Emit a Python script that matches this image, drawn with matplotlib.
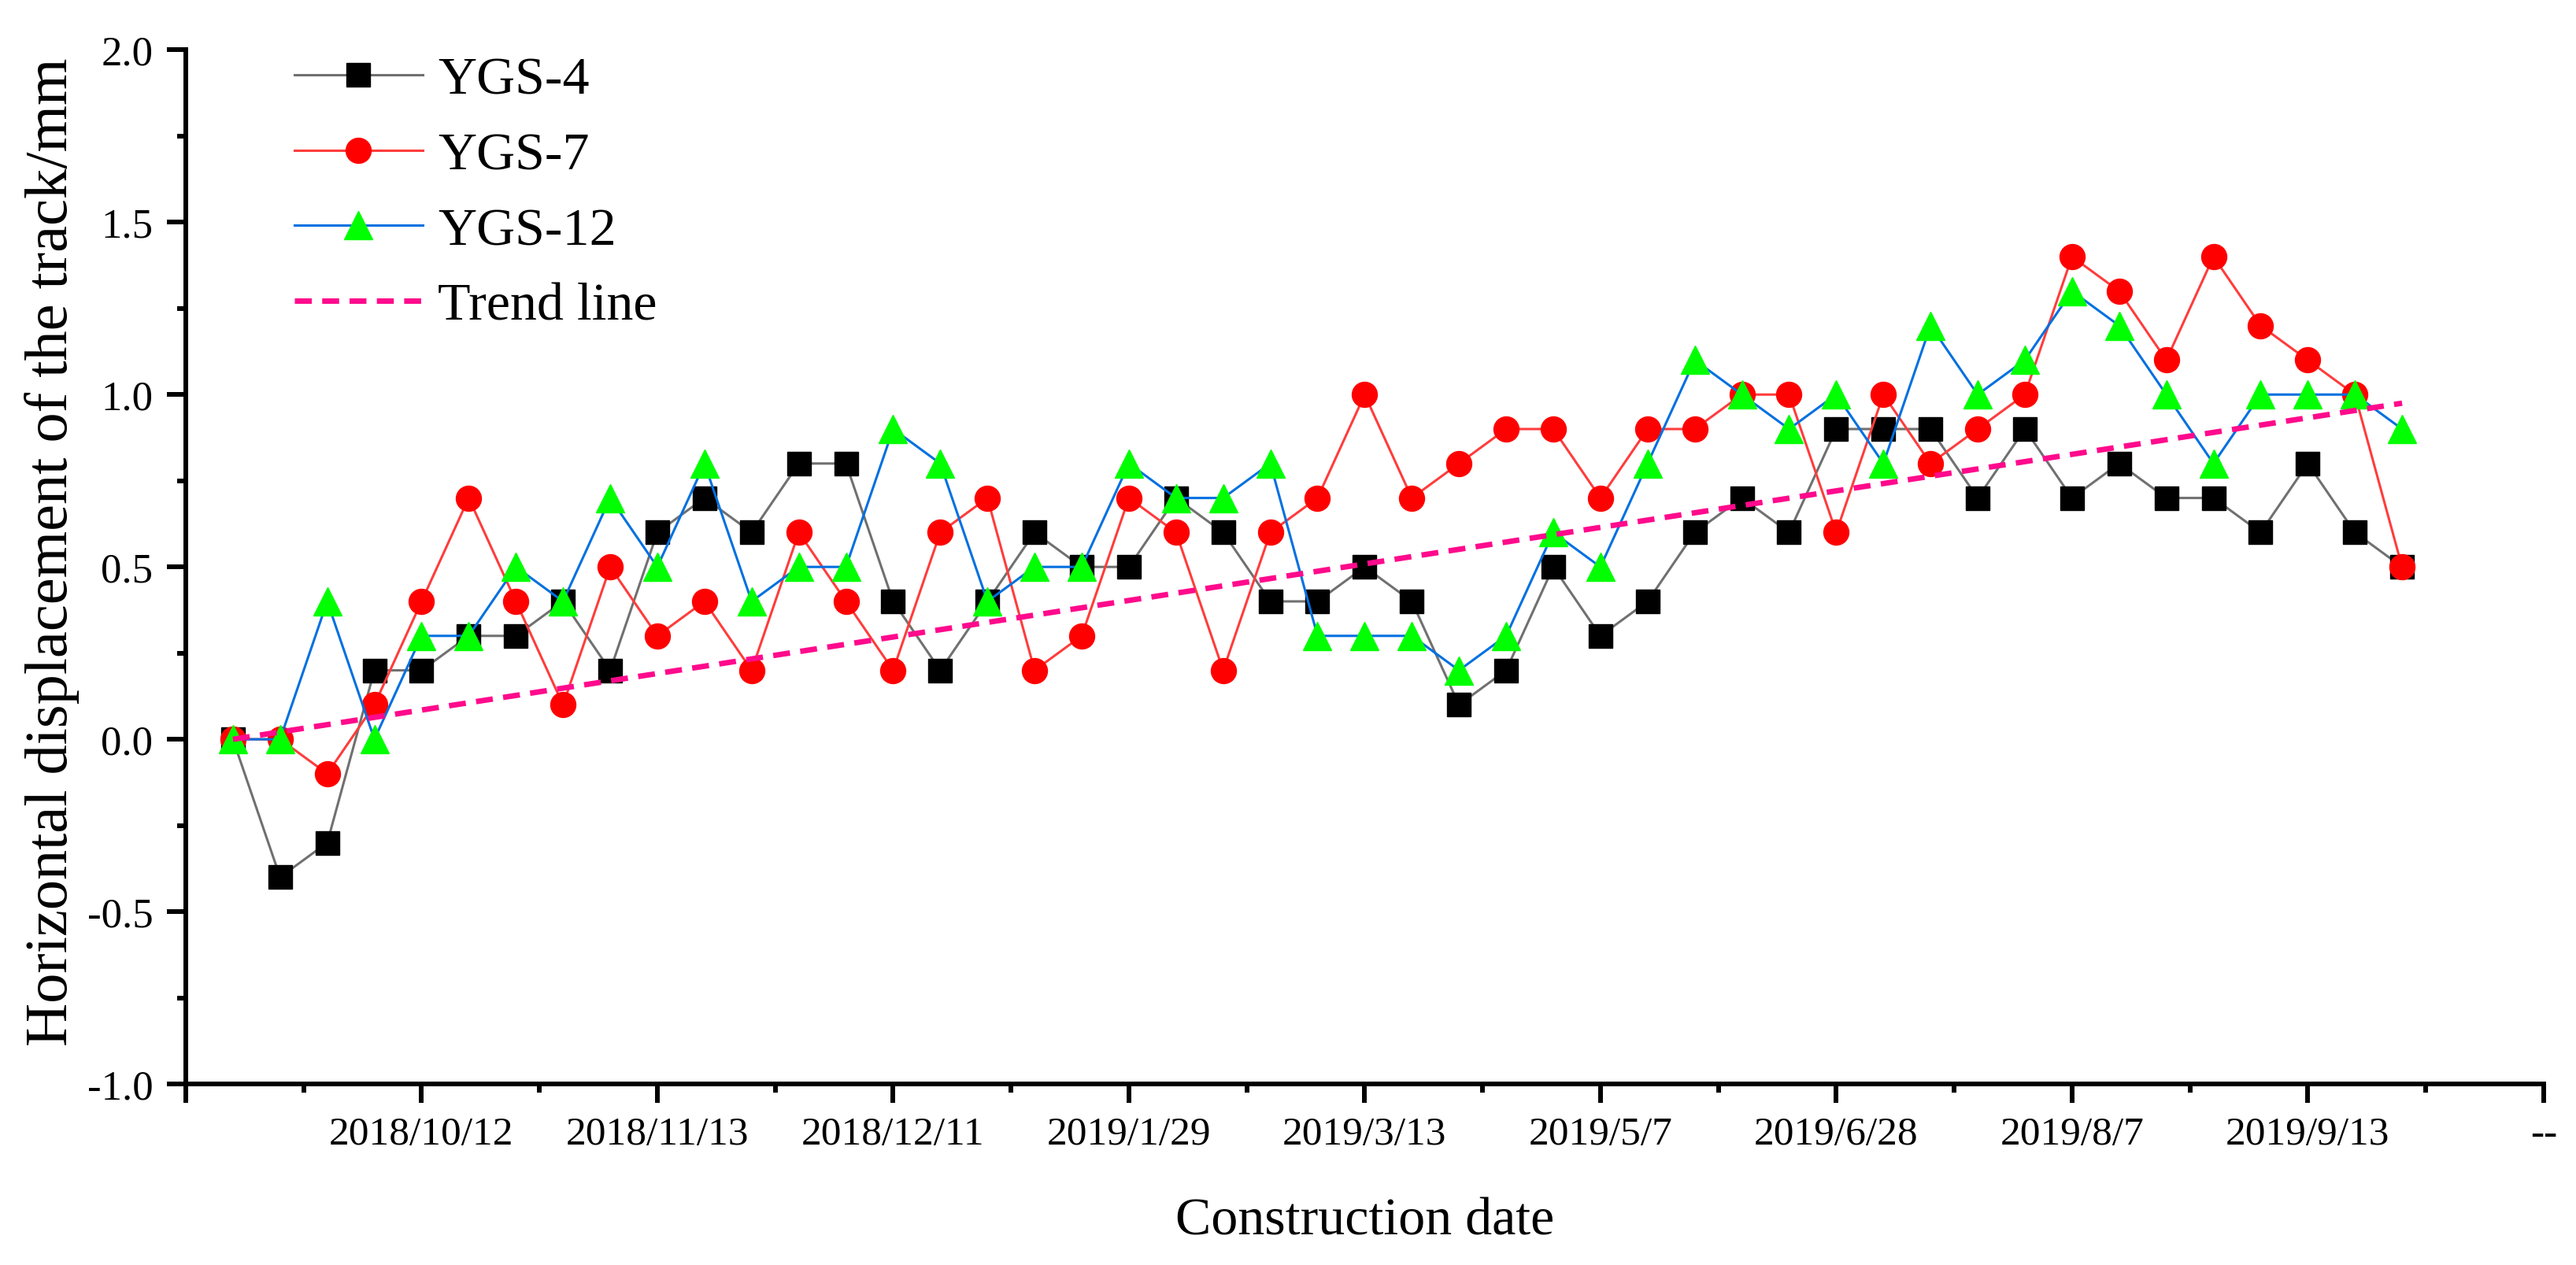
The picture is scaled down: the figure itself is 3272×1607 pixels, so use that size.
import matplotlib as mpl
mpl.use("Agg")
import matplotlib.pyplot as plt
from matplotlib.ticker import FixedLocator

plt.rcParams["font.family"] = ["Liberation Serif", "DejaVu Serif"]

# measurement dates (major tick labels every 5 surveys)
date_labels = ["", "2018/10/12", "2018/11/13", "2018/12/11", "2019/1/29",
               "2019/3/13", "2019/5/7", "2019/6/28", "2019/8/7", "2019/9/13", "--"]
date_ticks = [-1, 4, 9, 14, 19, 24, 29, 34, 39, 44, 49]

ygs4 = [0.0, -0.4, -0.3, 0.2, 0.2, 0.3, 0.3, 0.4, 0.2, 0.6,
        0.7, 0.6, 0.8, 0.8, 0.4, 0.2, 0.4, 0.6, 0.5, 0.5,
        0.7, 0.6, 0.4, 0.4, 0.5, 0.4, 0.1, 0.2, 0.5, 0.3,
        0.4, 0.6, 0.7, 0.6, 0.9, 0.9, 0.9, 0.7, 0.9, 0.7,
        0.8, 0.7, 0.7, 0.6, 0.8, 0.6, 0.5]
ygs7 = [0.0, 0.0, -0.1, 0.1, 0.4, 0.7, 0.4, 0.1, 0.5, 0.3,
        0.4, 0.2, 0.6, 0.4, 0.2, 0.6, 0.7, 0.2, 0.3, 0.7,
        0.6, 0.2, 0.6, 0.7, 1.0, 0.7, 0.8, 0.9, 0.9, 0.7,
        0.9, 0.9, 1.0, 1.0, 0.6, 1.0, 0.8, 0.9, 1.0, 1.4,
        1.3, 1.1, 1.4, 1.2, 1.1, 1.0, 0.5]
ygs12 = [0.0, 0.0, 0.4, 0.0, 0.3, 0.3, 0.5, 0.4, 0.7, 0.5,
         0.8, 0.4, 0.5, 0.5, 0.9, 0.8, 0.4, 0.5, 0.5, 0.8,
         0.7, 0.7, 0.8, 0.3, 0.3, 0.3, 0.2, 0.3, 0.6, 0.5,
         0.8, 1.1, 1.0, 0.9, 1.0, 0.8, 1.2, 1.0, 1.1, 1.3,
         1.2, 1.0, 0.8, 1.0, 1.0, 1.0, 0.9]
trend_x = [0, 46]
trend_y = [0.0, 0.975]

x = list(range(len(ygs4)))

fig = plt.figure(figsize=(32.73, 16.08), dpi=100)
ax = fig.add_axes([0.0721, 0.143, 0.915, 0.817])

ax.plot(x, ygs4, color="#707070", lw=2.2, marker="s", ms=21,
        mfc="black", mec="black", label="YGS-4")
ax.plot(x, ygs7, color="#FF3C3C", lw=2.2, marker="o", ms=23,
        mfc="red", mec="red", label="YGS-7")
ax.plot(x, ygs12, color="#0070E0", lw=2.2, marker="^", ms=26,
        mfc="#00FF00", mec="#00FF00", label="YGS-12")
ax.plot(trend_x, trend_y, color="#FF0A8C", lw=5, ls=(0, (3.1, 1.9)),
        label="Trend line")

ax.set_xlim(-1, 49)
ax.set_ylim(-1.0, 2.0)
ax.set_xticks(date_ticks)
ax.set_xticklabels(date_labels)
ax.xaxis.set_minor_locator(FixedLocator([t + 2.5 for t in date_ticks[:-1]]))
ax.set_yticks([-1.0, -0.5, 0.0, 0.5, 1.0, 1.5, 2.0])
ax.set_yticklabels(["-1.0", "-0.5", "0.0", "0.5", "1.0", "1.5", "2.0"])
ax.yaxis.set_minor_locator(FixedLocator([-0.75, -0.25, 0.25, 0.75, 1.25, 1.75]))

for side in ["top", "right"]:
    ax.spines[side].set_visible(False)
for side in ["left", "bottom"]:
    ax.spines[side].set_linewidth(4.3)

ax.tick_params(which="major", direction="out", length=17, width=4.3)
ax.tick_params(which="minor", direction="out", length=8, width=4.3)
ax.tick_params(axis="x", which="major", pad=12, labelsize=37)
ax.tick_params(axis="y", which="major", pad=13, labelsize=38)

ax.set_xlabel("Construction date", fontsize=49, labelpad=41)
ax.set_ylabel("Horizontal displacement of the track/mm", fontsize=55)
ax.yaxis.set_label_coords(-0.045, 0.515)

ax.legend(loc="upper left", bbox_to_anchor=(0.046, 0.994), frameon=False,
          fontsize=49, handlelength=2.4, handletextpad=0.28,
          labelspacing=0.5, borderpad=0, borderaxespad=0, numpoints=1)

fig.savefig("out.png", dpi=100)
